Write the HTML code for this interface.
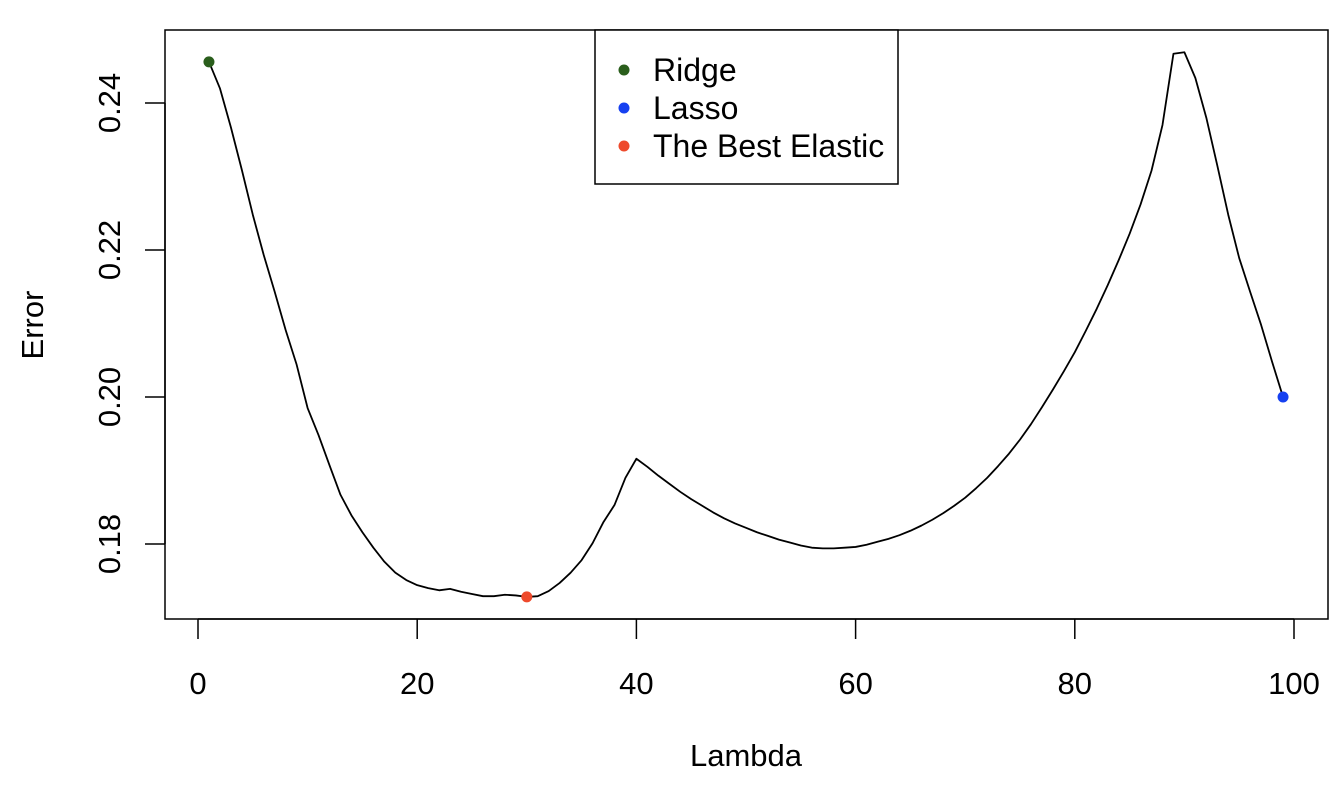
<!DOCTYPE html>
<html><head><meta charset="utf-8"><style>
html,body{margin:0;padding:0;background:#fff;}
svg text{font-family:"Liberation Sans",Arial,sans-serif;fill:#000;}
</style></head><body>
<svg id="chart" width="1344" height="780" xmlns="http://www.w3.org/2000/svg"></svg>
<script>
const lambdas=[1,2,3,4,5,6,7,8,9,10,11,12,13,14,15,16,17,18,19,20,21,22,23,24,25,26,27,28,29,30,31,32,33,34,35,36,37,38,39,40,41,42,43,44,45,46,47,48,49,50,51,52,53,54,55,56,57,58,59,60,61,62,63,64,65,66,67,68,69,70,71,72,73,74,75,76,77,78,79,80,81,82,83,84,85,86,87,88,89,90,91,92,93,94,95,96,97,98,99];
const errors=[.2456,.2420,.2367,.2309,.2248,.2193,.2143,.2091,.2044,.1985,.1948,.1907,.1867,.1839,.1816,.1795,.1776,.1761,.1751,.1744,.1740,.1737,.1739,.1735,.1732,.1729,.1729,.1731,.1730,.1728,.1729,.1736,.1747,.1761,.1778,.1801,.1830,.1853,.1890,.1916,.1905,.1893,.1882,.1871,.1861,.1852,.1843,.1835,.1828,.1822,.1816,.1811,.1806,.1802,.1798,.1795,.1794,.1794,.1795,.1796,.1799,.1803,.1807,.1812,.1818,.1825,.1833,.1842,.1852,.1863,.1876,.1890,.1906,.1923,.1942,.1963,.1986,.2010,.2035,.2061,.2090,.2120,.2152,.2186,.2222,.2262,.2308,.2370,.2467,.2469,.2434,.2380,.2315,.2248,.2189,.2143,.2098,.2048,.2000];
const xTicks=[0,20,40,60,80,100];
const yTicks=[0.18,0.20,0.22,0.24];
const yTickLabels=["0.18","0.20","0.22","0.24"];
const markerNames=["Ridge","Lasso","The Best Elastic"];
const markerLambdas=[1,99,30];
const markerErrors=[0.2456,0.2000,0.1728];
const markerColors=["#2a5e1c","#1640f0","#ee4a2c"];

const NS="http://www.w3.org/2000/svg";
const svg=document.getElementById('chart');
const X=v=>198+(v-0)*(1294-198)/100;
const Y=v=>397-(v-0.20)*7350;
function mk(t,a,p){const e=document.createElementNS(NS,t);for(const k in a)e.setAttribute(k,a[k]);(p||svg).appendChild(e);return e;}

const box=mk('rect',{x:165,y:30,width:1163,height:589,fill:'none',stroke:'#000','stroke-width':1.5});



const xa=mk('g',{});


mk('line',{x1:X(0),x2:X(100),y1:619,y2:619,stroke:'#000','stroke-width':1.5},xa);
xTicks.forEach(t=>{
  const l=mk('line',{x1:X(t),x2:X(t),y1:619,y2:639,stroke:'#000','stroke-width':1.5},xa);
  
  
  const tx=mk('text',{x:X(t),y:694,'text-anchor':'middle','font-size':31},xa);
  tx.textContent=t;
  
  
});
const ya=mk('g',{});


mk('line',{x1:165,x2:165,y1:Y(0.24),y2:Y(0.18),stroke:'#000','stroke-width':1.5},ya);
yTicks.forEach((t,i)=>{
  const l=mk('line',{x1:145,x2:165,y1:Y(t),y2:Y(t),stroke:'#000','stroke-width':1.5},ya);
  
  
  const tx=mk('text',{x:0,y:0,'text-anchor':'middle','font-size':31,transform:`translate(120,${Y(t)}) rotate(-90)`},ya);
  tx.textContent=yTickLabels[i];
  
  
});
const xt=mk('text',{x:746,y:766,'text-anchor':'middle','font-size':31});
xt.textContent='Lambda';


const yt=mk('text',{x:0,y:0,'text-anchor':'middle','font-size':31,transform:'translate(43,325) rotate(-90)'});
yt.textContent='Error';



const line=mk('polyline',{points:lambdas.map((l,i)=>X(l)+','+Y(errors[i])).join(' '),fill:'none',stroke:'#000','stroke-width':1.8,'stroke-linejoin':'round'});



markerNames.forEach((n,i)=>{
  const c=mk('circle',{cx:X(markerLambdas[i]),cy:Y(markerErrors[i]),r:5.5,fill:markerColors[i]});
  
  
});

const lg=mk('g',{});


mk('rect',{x:595,y:30,width:303,height:154,fill:'#fff',stroke:'#000','stroke-width':1.5},lg);
markerNames.forEach((n,i)=>{
  const y=70+i*38;
  const c=mk('circle',{cx:624,cy:y,r:5.5,fill:markerColors[i]},lg);
  
  
  const t=mk('text',{x:653,y:y+11,'font-size':32},lg);
  t.textContent=n;
  
  
});
</script>
</body></html>
